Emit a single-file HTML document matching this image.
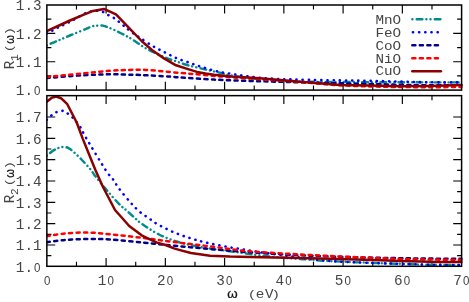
<!DOCTYPE html>
<html><head><meta charset="utf-8"><title>R(omega)</title>
<style>html,body{margin:0;padding:0;background:#fff;overflow:hidden;}svg{display:block;}</style>
</head><body>
<svg width="469" height="302" viewBox="0 0 469 302">
<rect width="469" height="302" fill="#fff"/>
<defs><clipPath id="ct"><rect x="46.85" y="4.50" width="415.95" height="86.30"/></clipPath><clipPath id="cb"><rect x="46.85" y="95.15" width="415.95" height="171.85"/></clipPath></defs>
<g stroke="#000" stroke-width="1.5" fill="none" stroke-linecap="butt">
<path stroke-width="1.15" d="M76.47 90.10v-4.50M76.47 5.00v4.50M76.47 266.30v-4.50M76.47 95.65v4.50M106.10 90.10v-8.40M106.10 5.00v8.40M106.10 266.30v-8.40M106.10 95.65v8.40M135.72 90.10v-4.50M135.72 5.00v4.50M135.72 266.30v-4.50M135.72 95.65v4.50M165.35 90.10v-8.40M165.35 5.00v8.40M165.35 266.30v-8.40M165.35 95.65v8.40M194.97 90.10v-4.50M194.97 5.00v4.50M194.97 266.30v-4.50M194.97 95.65v4.50M224.60 90.10v-8.40M224.60 5.00v8.40M224.60 266.30v-8.40M224.60 95.65v8.40M254.22 90.10v-4.50M254.22 5.00v4.50M254.22 266.30v-4.50M254.22 95.65v4.50M283.85 90.10v-8.40M283.85 5.00v8.40M283.85 266.30v-8.40M283.85 95.65v8.40M313.48 90.10v-4.50M313.48 5.00v4.50M313.48 266.30v-4.50M313.48 95.65v4.50M343.10 90.10v-8.40M343.10 5.00v8.40M343.10 266.30v-8.40M343.10 95.65v8.40M372.73 90.10v-4.50M372.73 5.00v4.50M372.73 266.30v-4.50M372.73 95.65v4.50M402.35 90.10v-8.40M402.35 5.00v8.40M402.35 266.30v-8.40M402.35 95.65v8.40M431.98 90.10v-4.50M431.98 5.00v4.50M431.98 266.30v-4.50M431.98 95.65v4.50M46.85 75.92h4.50M461.60 75.92h-4.50M46.85 61.73h8.40M461.60 61.73h-8.40M46.85 47.55h4.50M461.60 47.55h-4.50M46.85 33.37h8.40M461.60 33.37h-8.40M46.85 19.18h4.50M461.60 19.18h-4.50M46.85 255.63h4.50M461.60 255.63h-4.50M46.85 244.97h8.40M461.60 244.97h-8.40M46.85 234.30h4.50M461.60 234.30h-4.50M46.85 223.64h8.40M461.60 223.64h-8.40M46.85 212.97h4.50M461.60 212.97h-4.50M46.85 202.31h8.40M461.60 202.31h-8.40M46.85 191.64h4.50M461.60 191.64h-4.50M46.85 180.98h8.40M461.60 180.98h-8.40M46.85 170.31h4.50M461.60 170.31h-4.50M46.85 159.64h8.40M461.60 159.64h-8.40M46.85 148.98h4.50M461.60 148.98h-4.50M46.85 138.31h8.40M461.60 138.31h-8.40M46.85 127.65h4.50M461.60 127.65h-4.50M46.85 116.98h8.40M461.60 116.98h-8.40"/>
</g>
<g fill="none" stroke-linejoin="round" clip-path="url(#ct)">
<path d="M46.75 45.40 C48.62 44.60 54.12 42.25 58.00 40.60 C61.88 38.95 65.50 37.38 70.00 35.50 C74.50 33.62 81.33 30.82 85.00 29.30 C88.67 27.78 90.00 27.00 92.00 26.40 C94.00 25.80 95.17 25.83 97.00 25.70 C98.83 25.57 101.10 25.32 103.00 25.60 C104.90 25.88 106.43 26.63 108.40 27.40 C110.37 28.17 112.25 29.00 114.80 30.20 C117.35 31.40 120.83 33.10 123.70 34.60 C126.57 36.10 128.28 36.90 132.00 39.20 C135.72 41.50 140.67 45.43 146.00 48.40 C151.33 51.37 159.00 54.85 164.00 57.00 C169.00 59.15 172.00 59.92 176.00 61.30 C180.00 62.68 183.07 63.93 188.00 65.30 C192.93 66.67 200.10 68.22 205.60 69.50 C211.10 70.78 216.77 72.03 221.00 73.00 C225.23 73.97 225.33 74.32 231.00 75.30 C236.67 76.28 243.50 77.87 255.00 78.90 C266.50 79.93 285.83 80.98 300.00 81.50 C314.17 82.02 323.33 81.87 340.00 82.00 C356.67 82.13 379.75 82.23 400.00 82.30 C420.25 82.37 451.25 82.38 461.50 82.40" stroke="#008b8b" stroke-width="2.45" stroke-dasharray="0.01 4.29 5.7 4.0 0.01 4.09" stroke-linecap="round"/>
<path d="M46.75 33.50 C48.62 32.52 54.12 29.55 58.00 27.60 C61.88 25.65 65.50 24.17 70.00 21.80 C74.50 19.43 81.33 15.15 85.00 13.40 C88.67 11.65 89.83 11.72 92.00 11.30 C94.17 10.88 96.00 10.73 98.00 10.90 C100.00 11.07 102.17 11.53 104.00 12.30 C105.83 13.07 107.22 14.47 109.00 15.50 C110.78 16.53 112.92 17.35 114.70 18.50 C116.48 19.65 118.02 21.05 119.70 22.40 C121.38 23.75 123.17 25.25 124.80 26.60 C126.43 27.95 127.13 28.73 129.50 30.50 C131.87 32.27 134.85 34.45 139.00 37.20 C143.15 39.95 149.93 44.40 154.40 47.00 C158.87 49.60 162.20 50.97 165.80 52.80 C169.40 54.63 172.30 56.43 176.00 58.00 C179.70 59.57 184.00 60.80 188.00 62.20 C192.00 63.60 195.22 64.90 200.00 66.40 C204.78 67.90 210.65 69.83 216.70 71.20 C222.75 72.57 229.92 73.60 236.30 74.60 C242.68 75.60 248.55 76.50 255.00 77.20 C261.45 77.90 267.50 78.40 275.00 78.80 C282.50 79.20 289.17 79.33 300.00 79.60 C310.83 79.87 328.33 80.20 340.00 80.40 C351.67 80.60 360.00 80.60 370.00 80.80 C380.00 81.00 390.00 81.35 400.00 81.60 C410.00 81.85 419.75 82.17 430.00 82.30 C440.25 82.43 456.25 82.38 461.50 82.40" stroke="#0000ff" stroke-width="2.55" stroke-dasharray="0.2 5.97" stroke-linecap="round"/>
<path d="M46.75 78.00 C52.62 77.55 71.46 75.92 82.00 75.30 C92.54 74.68 102.83 74.42 110.00 74.30 C117.17 74.18 120.00 74.48 125.00 74.60 C130.00 74.72 132.50 74.67 140.00 75.00 C147.50 75.33 163.33 76.18 170.00 76.60 C176.67 77.02 172.67 77.00 180.00 77.50 C187.33 78.00 202.67 79.03 214.00 79.60 C225.33 80.17 238.67 80.58 248.00 80.90 C257.33 81.22 261.33 81.27 270.00 81.50 C278.67 81.73 288.33 82.00 300.00 82.30 C311.67 82.60 328.33 83.03 340.00 83.30 C351.67 83.57 360.00 83.65 370.00 83.90 C380.00 84.15 390.00 84.57 400.00 84.80 C410.00 85.03 419.75 85.22 430.00 85.30 C440.25 85.38 456.25 85.30 461.50 85.30" stroke="#00008b" stroke-width="2.5" stroke-dasharray="3.1 4.42" stroke-linecap="round"/>
<path d="M46.75 77.00 C52.73 76.40 72.06 74.43 82.60 73.40 C93.14 72.37 102.10 71.38 110.00 70.80 C117.90 70.22 124.17 70.05 130.00 69.90 C135.83 69.75 138.33 69.55 145.00 69.90 C151.67 70.25 162.83 71.38 170.00 72.00 C177.17 72.62 183.50 73.22 188.00 73.60 C192.50 73.98 192.67 73.92 197.00 74.30 C201.33 74.68 208.33 75.40 214.00 75.90 C219.67 76.40 225.00 76.85 231.00 77.30 C237.00 77.75 242.67 78.10 250.00 78.60 C257.33 79.10 266.67 79.73 275.00 80.30 C283.33 80.87 292.50 81.42 300.00 82.00 C307.50 82.58 313.33 83.25 320.00 83.80 C326.67 84.35 331.67 84.87 340.00 85.30 C348.33 85.73 360.00 86.12 370.00 86.40 C380.00 86.68 390.00 86.87 400.00 87.00 C410.00 87.13 419.75 87.20 430.00 87.20 C440.25 87.20 456.25 87.03 461.50 87.00" stroke="#ff0000" stroke-width="2.5" stroke-dasharray="3.1 4.42" stroke-linecap="round"/>
<path d="M46.75 31.20 L58.00 26.00 L70.00 20.50 L82.00 15.40 L93.00 10.90 L103.90 8.90 L116.00 14.30 L128.00 26.80 L141.60 41.00 L152.20 50.20 L164.00 58.40 L176.00 65.30 L188.00 69.10 L197.00 71.90 L205.50 73.50 L214.00 74.80 L231.00 76.40 L248.00 77.40 L260.00 78.30 L280.00 80.10 L300.00 81.70 L340.00 84.90 L370.00 85.50 L400.00 86.30 L430.00 85.90 L461.50 84.90" stroke="#8b0000" stroke-width="2.5" stroke-linecap="round"/>
</g>
<g fill="none" stroke-linejoin="round" clip-path="url(#cb)">
<path d="M46.75 155.60 C48.12 154.58 52.29 150.93 55.00 149.50 C57.71 148.07 60.50 147.08 63.00 147.00 C65.50 146.92 67.00 147.00 70.00 149.00 C73.00 151.00 77.50 155.50 81.00 159.00 C84.50 162.50 88.73 167.30 91.00 170.00 C93.27 172.70 92.17 172.07 94.60 175.20 C97.03 178.33 101.50 183.98 105.60 188.80 C109.70 193.62 115.80 200.57 119.20 204.10 C122.60 207.63 123.43 207.72 126.00 210.00 C128.57 212.28 131.93 215.48 134.60 217.80 C137.27 220.12 137.93 221.12 142.00 223.90 C146.07 226.68 152.97 231.48 159.00 234.50 C165.03 237.52 172.15 240.08 178.20 242.00 C184.25 243.92 190.00 244.90 195.30 246.00 C200.60 247.10 202.62 247.52 210.00 248.60 C217.38 249.68 230.18 251.22 239.60 252.50 C249.02 253.78 255.93 255.18 266.50 256.30 C277.07 257.42 292.42 258.40 303.00 259.20 C313.58 260.00 320.50 260.57 330.00 261.10 C339.50 261.63 351.67 262.05 360.00 262.40 C368.33 262.75 373.33 262.97 380.00 263.20 C386.67 263.43 391.67 263.55 400.00 263.80 C408.33 264.05 419.75 264.50 430.00 264.70 C440.25 264.90 456.25 264.95 461.50 265.00" stroke="#008b8b" stroke-width="2.45" stroke-dasharray="0.01 4.29 5.7 4.0 0.01 4.09" stroke-linecap="round"/>
<path d="M46.75 119.90 C47.96 118.83 51.58 115.02 54.00 113.50 C56.42 111.98 59.30 110.97 61.30 110.80 C63.30 110.63 64.15 111.42 66.00 112.50 C67.85 113.58 70.07 114.93 72.40 117.30 C74.73 119.67 77.73 123.28 80.00 126.70 C82.27 130.12 81.73 130.58 86.00 137.80 C90.27 145.02 101.18 163.20 105.60 170.00 C110.02 176.80 110.23 175.47 112.50 178.60 C114.77 181.73 116.08 184.68 119.20 188.80 C122.32 192.92 127.75 199.43 131.20 203.30 C134.65 207.17 137.05 209.58 139.90 212.00 C142.75 214.42 145.45 215.82 148.30 217.80 C151.15 219.78 152.72 221.47 157.00 223.90 C161.28 226.33 168.33 229.98 174.00 232.40 C179.67 234.82 185.33 236.63 191.00 238.40 C196.67 240.17 201.17 241.45 208.00 243.00 C214.83 244.55 226.10 246.63 232.00 247.70 C237.90 248.77 239.57 248.77 243.40 249.40 C247.23 250.03 249.57 250.67 255.00 251.50 C260.43 252.33 269.67 253.55 276.00 254.40 C282.33 255.25 286.00 255.67 293.00 256.60 C300.00 257.53 310.17 259.17 318.00 260.00 C325.83 260.83 329.67 261.07 340.00 261.60 C350.33 262.13 370.00 262.83 380.00 263.20 C390.00 263.57 391.67 263.55 400.00 263.80 C408.33 264.05 419.75 264.48 430.00 264.70 C440.25 264.92 456.25 265.03 461.50 265.10" stroke="#0000ff" stroke-width="2.55" stroke-dasharray="0.2 5.97" stroke-linecap="round"/>
<path d="M46.75 242.20 C49.79 241.83 58.29 240.53 65.00 240.00 C71.71 239.47 79.50 239.08 87.00 239.00 C94.50 238.92 100.50 238.88 110.00 239.50 C119.50 240.12 133.17 241.65 144.00 242.70 C154.83 243.75 164.00 244.75 175.00 245.80 C186.00 246.85 197.50 247.92 210.00 249.00 C222.50 250.08 235.00 251.27 250.00 252.30 C265.00 253.33 285.00 254.45 300.00 255.20 C315.00 255.95 328.33 256.40 340.00 256.80 C351.67 257.20 360.00 257.37 370.00 257.60 C380.00 257.83 390.00 258.03 400.00 258.20 C410.00 258.37 419.75 258.50 430.00 258.60 C440.25 258.70 456.25 258.77 461.50 258.80" stroke="#00008b" stroke-width="2.5" stroke-dasharray="3.1 4.42" stroke-linecap="round"/>
<path d="M46.75 236.20 C49.79 235.75 58.29 234.12 65.00 233.50 C71.71 232.88 79.50 232.37 87.00 232.50 C94.50 232.63 100.83 233.42 110.00 234.30 C119.17 235.18 131.33 236.52 142.00 237.80 C152.67 239.08 162.67 240.57 174.00 242.00 C185.33 243.43 197.33 244.85 210.00 246.40 C222.67 247.95 235.00 249.97 250.00 251.30 C265.00 252.63 288.33 253.70 300.00 254.40 C311.67 255.10 313.33 255.15 320.00 255.50 C326.67 255.85 331.67 256.12 340.00 256.50 C348.33 256.88 360.00 257.40 370.00 257.80 C380.00 258.20 390.00 258.62 400.00 258.90 C410.00 259.18 419.75 259.33 430.00 259.50 C440.25 259.67 456.25 259.83 461.50 259.90" stroke="#ff0000" stroke-width="2.5" stroke-dasharray="3.1 4.42" stroke-linecap="round"/>
<path d="M46.75 101.70 L51.50 97.90 L56.20 96.50 L61.00 98.20 L67.30 104.20 L76.70 122.50 L82.70 138.60 L95.40 170.00 L103.00 187.00 L115.00 210.00 L123.50 219.50 L129.20 226.00 L142.00 235.60 L157.00 242.60 L165.60 245.00 L174.00 248.40 L180.00 250.10 L191.00 253.00 L210.00 255.80 L230.00 256.60 L250.00 256.90 L300.00 258.00 L340.00 259.10 L380.00 260.30 L400.00 260.90 L440.00 261.90 L461.50 262.10" stroke="#8b0000" stroke-width="2.5" stroke-linecap="round"/>
</g>
<g stroke="#000" stroke-width="1.5" fill="none">
<rect x="46.85" y="5.00" width="414.75" height="85.10"/>
<rect x="46.85" y="95.65" width="414.75" height="170.65"/>
</g>
<g opacity="0.999" font-family="'Liberation Mono', monospace" font-size="14.3" fill="#444">
<text transform="translate(20.15 95.40) scale(1.000 1.000)" text-anchor="middle" >1</text><text transform="translate(28.73 95.40) scale(1.000 1.000)" text-anchor="middle" >.</text><text transform="translate(37.31 95.40) scale(0.930 1.000)" text-anchor="middle" font-family="'Liberation Sans', sans-serif" font-size="12.4">0</text>
<text transform="translate(20.15 67.03) scale(1.000 1.000)" text-anchor="middle" >1</text><text transform="translate(28.73 67.03) scale(1.000 1.000)" text-anchor="middle" >.</text><text transform="translate(37.31 67.03) scale(1.000 1.000)" text-anchor="middle" >1</text>
<text transform="translate(20.15 38.67) scale(1.000 1.000)" text-anchor="middle" >1</text><text transform="translate(28.73 38.67) scale(1.000 1.000)" text-anchor="middle" >.</text><text transform="translate(37.31 38.67) scale(1.000 1.000)" text-anchor="middle" >2</text>
<text transform="translate(20.15 10.30) scale(1.000 1.000)" text-anchor="middle" >1</text><text transform="translate(28.73 10.30) scale(1.000 1.000)" text-anchor="middle" >.</text><text transform="translate(37.31 10.30) scale(1.000 1.000)" text-anchor="middle" >3</text>
<text transform="translate(20.15 271.60) scale(1.000 1.000)" text-anchor="middle" >1</text><text transform="translate(28.73 271.60) scale(1.000 1.000)" text-anchor="middle" >.</text><text transform="translate(37.31 271.60) scale(0.930 1.000)" text-anchor="middle" font-family="'Liberation Sans', sans-serif" font-size="12.4">0</text>
<text transform="translate(20.15 250.27) scale(1.000 1.000)" text-anchor="middle" >1</text><text transform="translate(28.73 250.27) scale(1.000 1.000)" text-anchor="middle" >.</text><text transform="translate(37.31 250.27) scale(1.000 1.000)" text-anchor="middle" >1</text>
<text transform="translate(20.15 228.94) scale(1.000 1.000)" text-anchor="middle" >1</text><text transform="translate(28.73 228.94) scale(1.000 1.000)" text-anchor="middle" >.</text><text transform="translate(37.31 228.94) scale(1.000 1.000)" text-anchor="middle" >2</text>
<text transform="translate(20.15 207.61) scale(1.000 1.000)" text-anchor="middle" >1</text><text transform="translate(28.73 207.61) scale(1.000 1.000)" text-anchor="middle" >.</text><text transform="translate(37.31 207.61) scale(1.000 1.000)" text-anchor="middle" >3</text>
<text transform="translate(20.15 186.28) scale(1.000 1.000)" text-anchor="middle" >1</text><text transform="translate(28.73 186.28) scale(1.000 1.000)" text-anchor="middle" >.</text><text transform="translate(37.31 186.28) scale(1.000 1.000)" text-anchor="middle" >4</text>
<text transform="translate(20.15 164.94) scale(1.000 1.000)" text-anchor="middle" >1</text><text transform="translate(28.73 164.94) scale(1.000 1.000)" text-anchor="middle" >.</text><text transform="translate(37.31 164.94) scale(1.000 1.000)" text-anchor="middle" >5</text>
<text transform="translate(20.15 143.61) scale(1.000 1.000)" text-anchor="middle" >1</text><text transform="translate(28.73 143.61) scale(1.000 1.000)" text-anchor="middle" >.</text><text transform="translate(37.31 143.61) scale(1.000 1.000)" text-anchor="middle" >6</text>
<text transform="translate(20.15 122.28) scale(1.000 1.000)" text-anchor="middle" >1</text><text transform="translate(28.73 122.28) scale(1.000 1.000)" text-anchor="middle" >.</text><text transform="translate(37.31 122.28) scale(1.000 1.000)" text-anchor="middle" >7</text>
<text transform="translate(47.15 285.00) scale(0.930 1.000)" text-anchor="middle" font-family="'Liberation Sans', sans-serif" font-size="12.4">0</text>
<text transform="translate(102.11 285.00) scale(1.000 1.000)" text-anchor="middle" >1</text><text transform="translate(110.69 285.00) scale(0.930 1.000)" text-anchor="middle" font-family="'Liberation Sans', sans-serif" font-size="12.4">0</text>
<text transform="translate(161.36 285.00) scale(1.000 1.000)" text-anchor="middle" >2</text><text transform="translate(169.94 285.00) scale(0.930 1.000)" text-anchor="middle" font-family="'Liberation Sans', sans-serif" font-size="12.4">0</text>
<text transform="translate(220.61 285.00) scale(1.000 1.000)" text-anchor="middle" >3</text><text transform="translate(229.19 285.00) scale(0.930 1.000)" text-anchor="middle" font-family="'Liberation Sans', sans-serif" font-size="12.4">0</text>
<text transform="translate(279.86 285.00) scale(1.000 1.000)" text-anchor="middle" >4</text><text transform="translate(288.44 285.00) scale(0.930 1.000)" text-anchor="middle" font-family="'Liberation Sans', sans-serif" font-size="12.4">0</text>
<text transform="translate(339.11 285.00) scale(1.000 1.000)" text-anchor="middle" >5</text><text transform="translate(347.69 285.00) scale(0.930 1.000)" text-anchor="middle" font-family="'Liberation Sans', sans-serif" font-size="12.4">0</text>
<text transform="translate(398.36 285.00) scale(1.000 1.000)" text-anchor="middle" >6</text><text transform="translate(406.94 285.00) scale(0.930 1.000)" text-anchor="middle" font-family="'Liberation Sans', sans-serif" font-size="12.4">0</text>
<text transform="translate(457.61 285.00) scale(1.000 1.000)" text-anchor="middle" >7</text><text transform="translate(466.19 285.00) scale(0.930 1.000)" text-anchor="middle" font-family="'Liberation Sans', sans-serif" font-size="12.4">0</text>
<text transform="translate(401.20 23.60) scale(1.000 0.860)" text-anchor="end" >MnO</text>
<text transform="translate(401.20 36.70) scale(1.000 0.860)" text-anchor="end" >FeO</text>
<text transform="translate(401.20 49.60) scale(1.000 0.860)" text-anchor="end" >CoO</text>
<text transform="translate(401.20 62.50) scale(1.000 0.860)" text-anchor="end" >NiO</text>
<text transform="translate(401.20 75.30) scale(1.000 0.860)" text-anchor="end" >CuO</text>
<text transform="translate(252.00 298.40) scale(1.000 0.785)" text-anchor="middle" >(</text>
<text transform="translate(260.00 298.40) scale(1.000 0.860)" text-anchor="middle" >e</text>
<text transform="translate(269.20 298.40) scale(1.000 0.860)" text-anchor="middle" >V</text>
<text transform="translate(275.70 298.40) scale(1.000 0.785)" text-anchor="middle" >)</text>
<text transform="translate(232.40 298.30) scale(0.920 0.860)" text-anchor="middle" font-family="'Liberation Sans', sans-serif" font-size="14.5" stroke="#111" stroke-width="0.25" fill="#111">ω</text>
<text transform="translate(13.60 69.20) rotate(-90) translate(0.00 0.00) scale(1.000 1.000)" text-anchor="start" >R</text><text transform="translate(13.60 69.20) rotate(-90) translate(8.20 4.00) scale(1.000 1.000)" text-anchor="start" font-size="11.2">1</text><text transform="translate(13.60 69.20) rotate(-90) translate(16.80 -0.60) scale(1.000 0.765)" text-anchor="start" >(</text><text transform="translate(13.60 69.20) rotate(-90) translate(29.70 0.00) scale(0.770 0.900)" text-anchor="middle" font-family="'Liberation Sans', sans-serif" font-size="14.5" stroke="#111" stroke-width="0.25" fill="#111">ω</text><text transform="translate(13.60 69.20) rotate(-90) translate(33.60 -0.60) scale(1.000 0.765)" text-anchor="start" >)</text>
<text transform="translate(13.60 203.20) rotate(-90) translate(0.00 0.00) scale(1.000 1.000)" text-anchor="start" >R</text><text transform="translate(13.60 203.20) rotate(-90) translate(8.20 4.00) scale(1.000 1.000)" text-anchor="start" font-size="11.2">2</text><text transform="translate(13.60 203.20) rotate(-90) translate(16.80 -0.60) scale(1.000 0.765)" text-anchor="start" >(</text><text transform="translate(13.60 203.20) rotate(-90) translate(29.70 0.00) scale(0.770 0.900)" text-anchor="middle" font-family="'Liberation Sans', sans-serif" font-size="14.5" stroke="#111" stroke-width="0.25" fill="#111">ω</text><text transform="translate(13.60 203.20) rotate(-90) translate(33.60 -0.60) scale(1.000 0.765)" text-anchor="start" >)</text>
</g>
<g fill="none">
<path d="M412.40 19.30H440.40" stroke="#008b8b" stroke-width="2.45" stroke-dasharray="0.01 4.29 5.7 4.0 0.01 4.09" stroke-linecap="round"/>
<path d="M412.90 32.20H438.50" stroke="#0000ff" stroke-width="2.55" stroke-dasharray="0.2 5.97" stroke-linecap="round"/>
<path d="M412.30 45.20H438.20" stroke="#00008b" stroke-width="2.5" stroke-dasharray="3.1 4.42" stroke-linecap="round"/>
<path d="M412.30 58.20H438.20" stroke="#ff0000" stroke-width="2.5" stroke-dasharray="3.1 4.42" stroke-linecap="round"/>
<path d="M412.30 71.20H440.90" stroke="#8b0000" stroke-width="2.5" stroke-linecap="round"/>
</g>
</svg>
</body></html>
